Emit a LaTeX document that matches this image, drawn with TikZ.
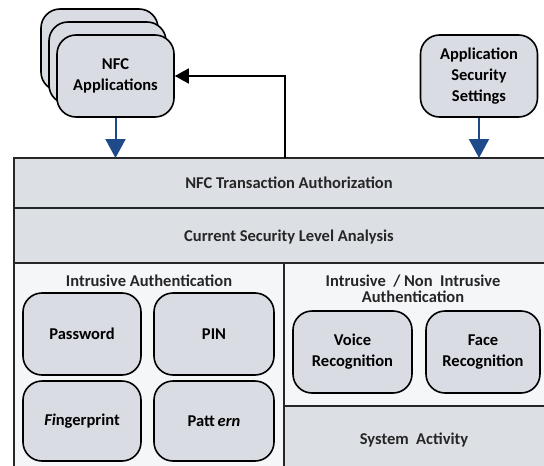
\documentclass[tikz,border=0pt]{standalone}
\usepackage{fontspec}
\setmainfont{Carlito}
\usetikzlibrary{arrows.meta}
\definecolor{bandfill}{HTML}{DCDFE4}
\definecolor{panelfill}{HTML}{F5F6F8}
\definecolor{boxfill}{HTML}{D9DCE3}
\definecolor{flowblue}{HTML}{1F4A8A}
\begin{document}
\begin{tikzpicture}[x=1pt,y=-1pt,
  font=\fontsize{16.5}{21}\selectfont\bfseries,
  rbox/.style={draw=black, line width=1.6pt, fill=boxfill, rounded corners=19pt,
    align=center, inner sep=0pt},
  frameline/.style={draw=black!85, line width=1.5pt},
  label/.style={align=center, inner sep=0pt, text=black!85},
  bluearrow/.style={draw=flowblue, line width=2pt,
    -{Triangle[length=19pt,width=20pt]}},
  blackarrow/.style={draw=black, line width=1.6pt,
    -{Triangle[length=14pt,width=15pt]}}]
\useasboundingbox (0,0) rectangle (544,466);
\clip (0,0) rectangle (544,466);

% layered panels of the architecture
\fill[bandfill] (14,158) rectangle (580,263);
\fill[panelfill] (14,263) rectangle (580,480);
\fill[bandfill] (284,406) rectangle (580,480);
\draw[frameline] (580,158) -- (14,158) -- (14,480);
\draw[frameline] (14,208) -- (580,208);
\draw[frameline] (14,263) -- (580,263);
\draw[frameline] (284,263) -- (284,480);
\draw[frameline] (284,406) -- (580,406);
\coordinate (ftop) at (14,158);
\coordinate (retstart) at (285,158);

% stacked application cards
\node[rbox, minimum width=117pt, minimum height=82pt] (nfcback) at (99.5,50) {};
\node[rbox, minimum width=117pt, minimum height=82pt] (nfcmid) at (107.5,63) {};
\node[rbox, minimum width=117pt, minimum height=82pt] (nfc) at (115.5,76) {NFC\\Applications};

\node[rbox, minimum width=117pt, minimum height=82pt] (sec) at (479,76)
  {Application\\Security\\Settings};

% band labels
\node[label] (auth) at (289,183) {NFC Transaction Authorization};
\node[label] (level) at (289,237) {Current Security Level Analysis};
\node[label] (intr) at (149,281) {Intrusive Authentication};
\node[label] (nonintr) at (413,289) {Intrusive~~/~Non~~Intrusive\\[-5pt]Authentication};
\node[label] (sysact) at (414,440) {System~~Activity};

% authentication methods
\node[rbox, minimum width=118pt, minimum height=82pt] (pwd) at (82,334) {Password};
\node[rbox, minimum width=120pt, minimum height=82pt] (pin) at (214,334) {PIN};
\node[rbox, minimum width=118pt, minimum height=80pt] (finger) at (82,421) {\textit{Fi}ngerprint};
\node[rbox, minimum width=120pt, minimum height=80pt] (pattern) at (214,421) {Patt\,\textit{ern}};
\node[rbox, minimum width=119pt, minimum height=82pt] (voice) at (352.5,352) {Voice\\Recognition};
\node[rbox, minimum width=114pt, minimum height=82pt] (face) at (483,352) {Face\\Recognition};

% connectors
\draw[bluearrow] (nfc.south) -- (nfc.south |- ftop);
\draw[bluearrow] (sec.south) -- (sec.south |- ftop);
\draw[blackarrow] (retstart) |- (nfc.east);
\end{tikzpicture}
\end{document}
